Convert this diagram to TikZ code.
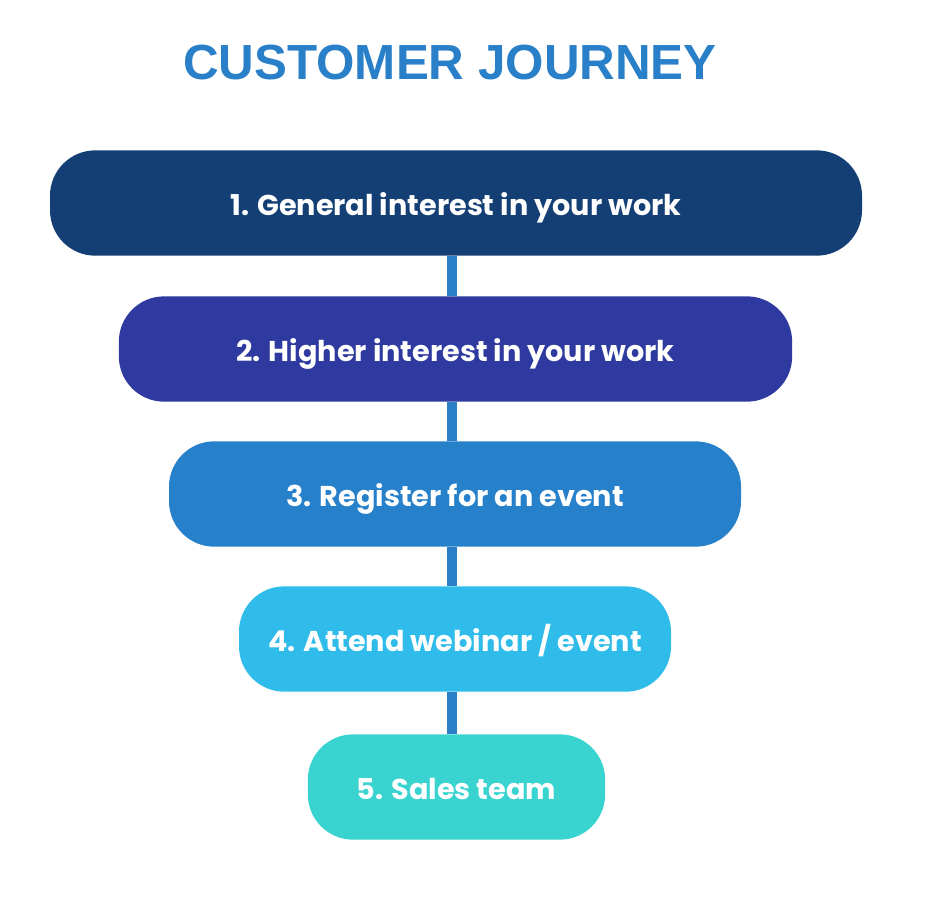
\documentclass[tikz,border=0pt]{standalone}
\usepackage{fontspec}
\setmainfont{Poppins}
\newfontfamily\titlefont{Liberation Sans}
\usepackage{tikz}
\usetikzlibrary{calc,positioning}
\definecolor{titleblue}{HTML}{2A7FC9}
\definecolor{stepA}{HTML}{143F75}
\definecolor{stepB}{HTML}{2E3A9F}
\definecolor{stepC}{HTML}{2680CA}
\definecolor{stepD}{HTML}{2FBCEA}
\definecolor{stepE}{HTML}{3AD4D0}
\tikzset{
	stage/.style={rounded corners=34pt, minimum height=79pt, text=white,
		font=\fontsize{21.5}{26}\selectfont\bfseries, inner sep=0pt,
		text height=18.5pt, text depth=0pt},
	link/.style={titleblue, line width=7.5pt}
}

\begin{document}
\begin{tikzpicture}[x=0.75pt,y=-0.75pt]
		% frame
		\useasboundingbox (0,0) rectangle (928,915);
		
		% title
		\node[titleblue, font=\titlefont\fontsize{37}{42}\selectfont\bfseries] (title) at (450,63) {CUSTOMER JOURNEY};
		
		% stages
		\node[stage, fill=stepA, minimum width=609pt] (s1) at (456,203) {1. General interest in your work};
		\node[stage, fill=stepB, minimum width=505pt] (s2) at (455.5,349) {2. Higher interest in your work};
		\node[stage, fill=stepC, minimum width=429pt] (s3) at (455,494) {3. Register for an event};
		\node[stage, fill=stepD, minimum width=324pt] (s4) at (455,639) {4. Attend webinar / event};
		\node[stage, fill=stepE, minimum width=223pt] (s5) at (456.5,787) {5. Sales team};
		
		% connectors (one vertical axis)
		\coordinate (axis) at (452,0);
		\foreach \a/\b in {s1/s2,s2/s3,s3/s4,s4/s5}
		\draw[link] (\a.south -| axis) -- (\b.north -| axis);
	\end{tikzpicture}
\end{document}
